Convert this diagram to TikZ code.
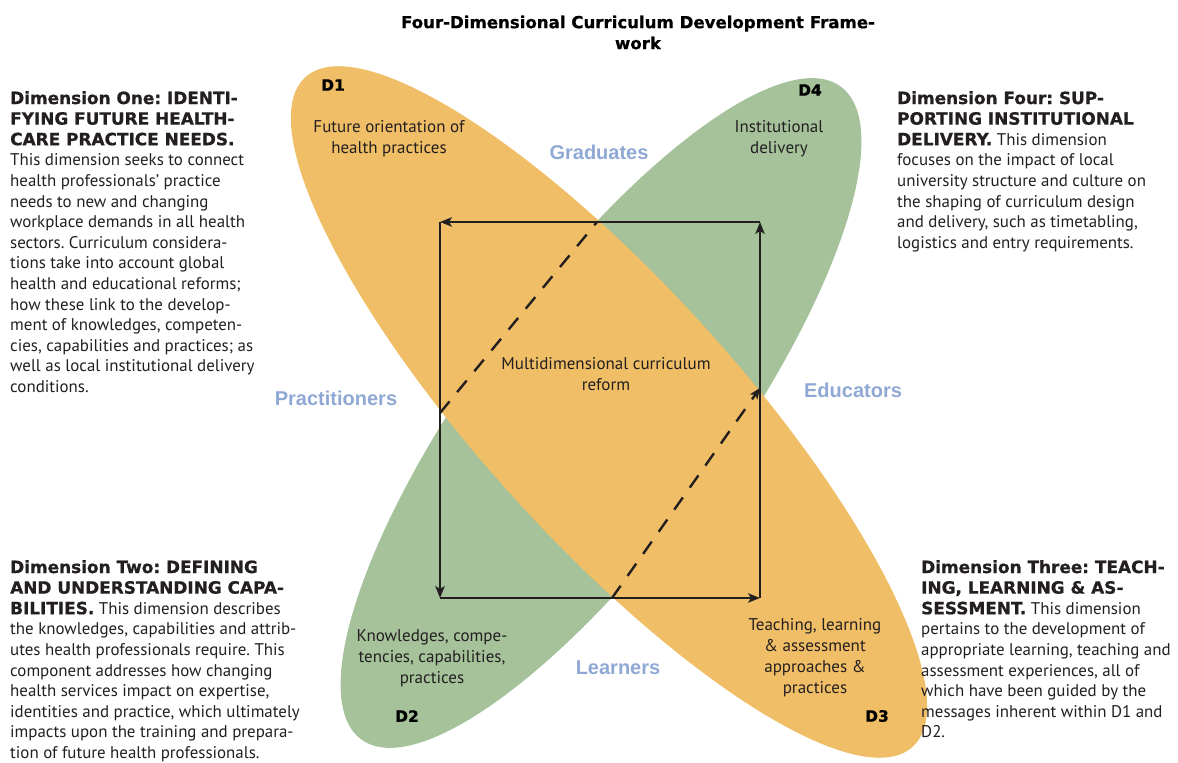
\documentclass[tikz,border=0pt]{standalone}
\usepackage{fontspec}
\setmainfont{PT Sans}
\newfontfamily\hfont{DejaVu Sans}[BoldFeatures={FakeBold=0.8}]
\newfontfamily\lblfont{Liberation Sans}
\usetikzlibrary{arrows.meta}
\definecolor{orng}{RGB}{240,190,102}
\definecolor{grn}{RGB}{165,194,154}
\definecolor{lblue}{RGB}{143,168,212}
\definecolor{ink}{RGB}{35,31,32}
\newcommand\hd{\hfont\bfseries}
\frenchspacing
\tikzset{
  blk/.style={anchor=north west, inner sep=0pt, align=left, text=ink, font=\frenchspacing\fontsize{16.9}{20.6}\selectfont},
  inner/.style={inner sep=0pt, align=center, text=ink, font=\fontsize{17}{21}\selectfont},
  dlab/.style={inner sep=0pt, text=black, font=\hfont\bfseries\fontsize{15.5}{18}\selectfont},
  who/.style={inner sep=0pt, text=lblue, font=\lblfont\bfseries\fontsize{20}{22}\selectfont},
  side/.style={draw=ink, line width=1.5pt, -{Stealth[length=12pt,width=9.5pt,inset=3pt]}},
  dashln/.style={draw=ink, line width=2.4pt, dash pattern=on 15pt off 12pt}
}
\begin{document}
\begin{tikzpicture}[x=1pt,y=1pt]
\useasboundingbox (0,0) rectangle (1178,763);
% ellipses
\fill[grn, rotate around={53.7:(601,350)}] (601,350) ellipse [x radius=405pt, y radius=126pt];
\fill[orng, rotate around={-47.8:(609,351)}] (609,351) ellipse [x radius=452pt, y radius=128pt];
% title
\node[inner sep=0pt, align=center, text=black, font=\hfont\bfseries\fontsize{16.6}{21}\selectfont] (title) at (638,730.5) {Four-Dimensional Curriculum Development Frame-\\work};
% square corners
\coordinate (tl) at (440,541);
\coordinate (tr) at (760,541);
\coordinate (bl) at (440,165);
\coordinate (br) at (760,165);
\draw[side] (tr) -- (tl);
\draw[side] (tl) -- (bl);
\draw[side] (bl) -- (br);
\draw[side] (br) -- (tr);
% dashed lines
\coordinate (p1) at (440,350);
\coordinate (p2) at (597,541);
\coordinate (q1) at (612,165);
\coordinate (q2) at (760,375);
\draw[dashln] (p1) -- (p2);
\draw[dashln, -{Stealth[length=11pt,width=9pt,inset=3pt]}] (q1) -- (q2);
% inner labels
\node[dlab] (D1) at (333,678) {D1};
\node[dlab] (D4) at (810,673) {D4};
\node[dlab] (D2) at (407,47) {D2};
\node[dlab] (D3) at (877,47) {D3};
\node[inner] (fo) at (389,624.5) {Future orientation of\\health practices};
\node[inner] (inst) at (779,624.5) {Institutional\\delivery};
\node[inner] (multi) at (606,388.5) {Multidimensional curriculum\\reform};
\node[inner] (know) at (432,105) {Knowledges, compe-\\tencies, capabilities,\\practices};
\node[inner] (teach) at (815,105.5) {Teaching, learning\\\& assessment\\approaches \&\\practices};
\node[who] (grad) at (599,611) {Graduates};
\node[who] (prac) at (336,365) {Practitioners};
\node[who] (edu) at (853,373) {Educators};
\node[who] (learn) at (618,95) {Learners};
% text blocks
\node[blk] (dim1) at (10,672) {{\hd Dimension One: IDENTI-}\\
{\hd FYING FUTURE HEALTH-}\\
{\hd CARE PRACTICE NEEDS.}\\
This dimension seeks to connect\\
health professionals’ practice\\
needs to new and changing\\
workplace demands in all health\\
sectors. Curriculum considera-\\
tions take into account global\\
health and educational reforms;\\
how these link to the develop-\\
ment of knowledges, competen-\\
cies, capabilities and practices; as\\
well as local institutional delivery\\
conditions.};
\node[blk] (dim4) at (897,672) {{\hd Dimension Four: SUP-}\\
{\hd PORTING INSTITUTIONAL}\\
{\hd DELIVERY.} This dimension\\
focuses on the impact of local\\
university structure and culture on\\
the shaping of curriculum design\\
and delivery, such as timetabling,\\
logistics and entry requirements.};
\node[blk] (dim2) at (10,203) {{\hd Dimension Two: DEFINING}\\
{\hd AND UNDERSTANDING CAPA-}\\
{\hd BILITIES.} This dimension describes\\
the knowledges, capabilities and attrib-\\
utes health professionals require. This\\
component addresses how changing\\
health services impact on expertise,\\
identities and practice, which ultimately\\
impacts upon the training and prepara-\\
tion of future health professionals.};
\node[blk] (dim3) at (921,203) {{\hd Dimension Three: TEACH-}\\
{\hd ING, LEARNING \& AS-}\\
{\hd SESSMENT.} This dimension\\
pertains to the development of\\
appropriate learning, teaching and\\
assessment experiences, all of\\
which have been guided by the\\
messages inherent within D1 and\\
D2.};
\end{tikzpicture}
\end{document}
